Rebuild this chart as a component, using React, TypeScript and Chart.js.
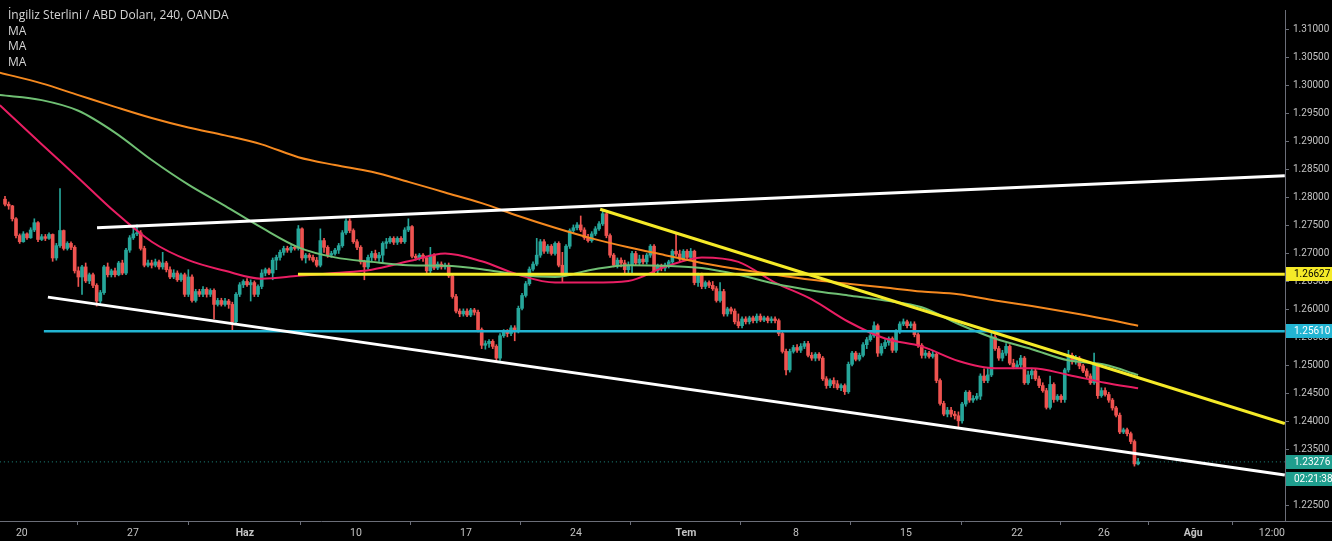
import React, { useEffect, useRef } from 'react';
import { Chart, registerables } from 'chart.js';

Chart.register(...registerables);

// ---- GBP/USD 4H candles (OANDA) ----
const opens = [
  1.2797,1.2788,1.2785,1.2762,1.2732,1.2721,1.2735,1.2728,1.2742,1.2755,
  1.2725,1.2730,1.2727,1.2734,1.2692,1.2714,1.2741,1.2709,1.2718,1.2711,
  1.2669,1.2658,1.2676,1.2651,1.2662,1.2643,1.2615,1.2630,1.2676,1.2662,
  1.2669,1.2662,1.2683,1.2665,1.2706,1.2728,1.2735,1.2737,1.2709,1.2679,
  1.2683,1.2679,1.2685,1.2676,1.2683,1.2671,1.2658,1.2665,1.2653,1.2662,
  1.2627,1.2658,1.2616,1.2632,1.2627,1.2636,1.2627,1.2634,1.2609,1.2616,
  1.2609,1.2615,1.2609,1.2578,1.2627,1.2644,1.2650,1.2644,1.2648,1.2627,
  1.2641,1.2665,1.2671,1.2665,1.2688,1.2693,1.2702,1.2709,1.2706,1.2711,
  1.2709,1.2744,1.2692,1.2697,1.2693,1.2688,1.2679,1.2723,1.2711,1.2697,
  1.2700,1.2706,1.2714,1.2737,1.2758,1.2741,1.2721,1.2711,1.2685,1.2676,
  1.2693,1.2700,1.2692,1.2697,1.2718,1.2721,1.2727,1.2720,1.2727,1.2721,
  1.2742,1.2748,1.2695,1.2692,1.2697,1.2692,1.2669,1.2697,1.2674,1.2681,
  1.2676,1.2679,1.2660,1.2623,1.2597,1.2592,1.2597,1.2590,1.2599,1.2595,
  1.2564,1.2536,1.2539,1.2543,1.2534,1.2513,1.2553,1.2560,1.2557,1.2567,
  1.2562,1.2602,1.2625,1.2646,1.2672,1.2681,1.2697,1.2721,1.2704,1.2713,
  1.2700,1.2718,1.2679,1.2664,1.2713,1.2741,1.2746,1.2751,1.2742,1.2728,
  1.2723,1.2735,1.2744,1.2753,1.2771,1.2732,1.2697,1.2679,1.2688,1.2683,
  1.2671,1.2679,1.2700,1.2683,1.2690,1.2685,1.2697,1.2713,1.2669,1.2678,
  1.2674,1.2679,1.2685,1.2704,1.2699,1.2690,1.2704,1.2693,1.2704,1.2648,
  1.2662,1.2641,1.2648,1.2643,1.2637,1.2616,1.2632,1.2592,1.2601,1.2597,
  1.2578,1.2571,1.2583,1.2578,1.2585,1.2580,1.2588,1.2581,1.2585,1.2580,
  1.2583,1.2580,1.2557,1.2525,1.2492,1.2525,1.2532,1.2527,1.2534,1.2539,
  1.2518,1.2513,1.2520,1.2513,1.2476,1.2464,1.2473,1.2467,1.2460,1.2464,
  1.2453,1.2502,1.2522,1.2511,1.2518,1.2537,1.2546,1.2553,1.2571,1.2522,
  1.2534,1.2541,1.2548,1.2527,1.2560,1.2574,1.2578,1.2571,1.2574,1.2555,
  1.2536,1.2518,1.2522,1.2516,1.2520,1.2473,1.2432,1.2413,1.2420,1.2413,
  1.2410,1.2401,1.2431,1.2452,1.2438,1.2441,1.2445,1.2481,1.2473,1.2483,
  1.2551,1.2530,1.2513,1.2522,1.2534,1.2504,1.2497,1.2501,1.2513,1.2469,
  1.2483,1.2490,1.2476,1.2464,1.2455,1.2425,1.2466,1.2439,1.2445,1.2439,
  1.2492,1.2518,1.2508,1.2513,1.2499,1.2490,1.2481,1.2469,1.2501,1.2446,
  1.2455,1.2448,1.2438,1.2424,1.2411,1.2381,1.2385,1.2378,1.2364,1.2324,
];

const highs = [
  1.2802,1.2792,1.2786,1.2764,1.2735,1.2739,1.2737,1.2746,1.2762,1.2757,
  1.2734,1.2734,1.2737,1.2735,1.2718,1.2816,1.2742,1.2721,1.2721,1.2714,
  1.2676,1.2679,1.2683,1.2665,1.2665,1.2646,1.2634,1.2679,1.2683,1.2672,
  1.2674,1.2686,1.2688,1.2709,1.2732,1.2750,1.2751,1.2741,1.2713,1.2688,
  1.2688,1.2690,1.2688,1.2702,1.2686,1.2676,1.2671,1.2669,1.2665,1.2665,
  1.2671,1.2662,1.2636,1.2636,1.2641,1.2639,1.2637,1.2637,1.2620,1.2620,
  1.2620,1.2618,1.2613,1.2630,1.2648,1.2653,1.2655,1.2653,1.2651,1.2644,
  1.2671,1.2674,1.2674,1.2692,1.2697,1.2706,1.2713,1.2713,1.2714,1.2714,
  1.2750,1.2746,1.2700,1.2700,1.2697,1.2693,1.2744,1.2727,1.2714,1.2704,
  1.2709,1.2718,1.2741,1.2762,1.2762,1.2744,1.2725,1.2714,1.2688,1.2697,
  1.2704,1.2706,1.2702,1.2721,1.2727,1.2730,1.2730,1.2730,1.2730,1.2746,
  1.2762,1.2750,1.2699,1.2700,1.2700,1.2695,1.2711,1.2700,1.2685,1.2685,
  1.2683,1.2683,1.2664,1.2627,1.2601,1.2601,1.2601,1.2602,1.2602,1.2599,
  1.2567,1.2544,1.2546,1.2546,1.2537,1.2557,1.2564,1.2564,1.2571,1.2571,
  1.2606,1.2629,1.2650,1.2676,1.2685,1.2727,1.2725,1.2725,1.2716,1.2716,
  1.2721,1.2721,1.2702,1.2716,1.2744,1.2751,1.2755,1.2767,1.2746,1.2734,
  1.2739,1.2748,1.2757,1.2776,1.2772,1.2735,1.2700,1.2692,1.2692,1.2688,
  1.2685,1.2704,1.2704,1.2697,1.2697,1.2700,1.2716,1.2716,1.2681,1.2681,
  1.2683,1.2688,1.2707,1.2737,1.2706,1.2707,1.2707,1.2709,1.2706,1.2665,
  1.2665,1.2651,1.2651,1.2650,1.2641,1.2648,1.2636,1.2604,1.2604,1.2601,
  1.2592,1.2587,1.2587,1.2588,1.2588,1.2592,1.2592,1.2588,1.2588,1.2587,
  1.2587,1.2583,1.2560,1.2529,1.2529,1.2536,1.2537,1.2539,1.2543,1.2543,
  1.2523,1.2523,1.2523,1.2516,1.2480,1.2476,1.2478,1.2473,1.2467,1.2467,
  1.2506,1.2525,1.2525,1.2522,1.2541,1.2550,1.2557,1.2578,1.2574,1.2539,
  1.2546,1.2551,1.2551,1.2564,1.2578,1.2583,1.2581,1.2578,1.2578,1.2558,
  1.2539,1.2527,1.2525,1.2525,1.2523,1.2476,1.2436,1.2425,1.2425,1.2418,
  1.2417,1.2434,1.2455,1.2455,1.2446,1.2450,1.2485,1.2494,1.2495,1.2560,
  1.2555,1.2534,1.2527,1.2539,1.2537,1.2511,1.2508,1.2518,1.2516,1.2490,
  1.2494,1.2494,1.2481,1.2469,1.2459,1.2481,1.2469,1.2448,1.2448,1.2495,
  1.2527,1.2522,1.2518,1.2516,1.2502,1.2494,1.2485,1.2522,1.2504,1.2460,
  1.2460,1.2452,1.2441,1.2427,1.2415,1.2388,1.2388,1.2381,1.2367,1.2334,
];

const lows = [
  1.2785,1.2779,1.2758,1.2728,1.2718,1.2720,1.2725,1.2727,1.2739,1.2721,
  1.2723,1.2723,1.2725,1.2686,1.2688,1.2711,1.2706,1.2706,1.2707,1.2665,
  1.2641,1.2627,1.2648,1.2646,1.2639,1.2606,1.2611,1.2627,1.2658,1.2658,
  1.2658,1.2660,1.2662,1.2662,1.2702,1.2725,1.2732,1.2706,1.2676,1.2676,
  1.2674,1.2676,1.2672,1.2672,1.2667,1.2655,1.2655,1.2650,1.2650,1.2623,
  1.2623,1.2613,1.2613,1.2623,1.2623,1.2622,1.2623,1.2583,1.2606,1.2606,
  1.2606,1.2602,1.2562,1.2574,1.2623,1.2639,1.2641,1.2615,1.2623,1.2623,
  1.2637,1.2660,1.2662,1.2653,1.2671,1.2688,1.2697,1.2702,1.2702,1.2706,
  1.2706,1.2688,1.2683,1.2688,1.2685,1.2676,1.2676,1.2702,1.2693,1.2693,
  1.2697,1.2700,1.2711,1.2734,1.2737,1.2718,1.2707,1.2681,1.2653,1.2672,
  1.2685,1.2688,1.2686,1.2683,1.2709,1.2718,1.2716,1.2716,1.2718,1.2718,
  1.2739,1.2692,1.2688,1.2688,1.2686,1.2665,1.2665,1.2671,1.2671,1.2672,
  1.2672,1.2657,1.2620,1.2594,1.2587,1.2588,1.2587,1.2587,1.2590,1.2560,
  1.2530,1.2529,1.2532,1.2530,1.2508,1.2509,1.2550,1.2551,1.2553,1.2544,
  1.2558,1.2599,1.2622,1.2643,1.2669,1.2678,1.2693,1.2700,1.2700,1.2697,
  1.2697,1.2676,1.2648,1.2660,1.2709,1.2737,1.2742,1.2739,1.2725,1.2720,
  1.2720,1.2732,1.2741,1.2750,1.2728,1.2693,1.2676,1.2674,1.2676,1.2665,
  1.2665,1.2665,1.2679,1.2679,1.2681,1.2681,1.2693,1.2665,1.2665,1.2669,
  1.2669,1.2674,1.2681,1.2695,1.2686,1.2686,1.2690,1.2690,1.2644,1.2641,
  1.2637,1.2637,1.2639,1.2634,1.2613,1.2613,1.2588,1.2588,1.2592,1.2574,
  1.2567,1.2567,1.2574,1.2574,1.2576,1.2576,1.2578,1.2578,1.2576,1.2576,
  1.2576,1.2553,1.2522,1.2483,1.2488,1.2522,1.2523,1.2523,1.2530,1.2515,
  1.2509,1.2508,1.2509,1.2473,1.2459,1.2460,1.2460,1.2457,1.2455,1.2448,
  1.2450,1.2499,1.2508,1.2508,1.2515,1.2530,1.2543,1.2550,1.2516,1.2518,
  1.2530,1.2536,1.2523,1.2523,1.2557,1.2571,1.2567,1.2567,1.2551,1.2532,
  1.2513,1.2513,1.2513,1.2513,1.2469,1.2429,1.2410,1.2408,1.2408,1.2404,
  1.2387,1.2397,1.2427,1.2434,1.2434,1.2438,1.2439,1.2469,1.2469,1.2480,
  1.2527,1.2509,1.2508,1.2518,1.2501,1.2494,1.2494,1.2495,1.2466,1.2466,
  1.2476,1.2473,1.2460,1.2452,1.2422,1.2422,1.2434,1.2436,1.2434,1.2434,
  1.2488,1.2502,1.2502,1.2494,1.2487,1.2478,1.2466,1.2466,1.2441,1.2443,
  1.2445,1.2434,1.2420,1.2408,1.2378,1.2378,1.2374,1.2360,1.2320,1.2322,
];

const closes = [
  1.2788,1.2785,1.2762,1.2732,1.2721,1.2735,1.2728,1.2742,1.2755,1.2725,
  1.2730,1.2727,1.2734,1.2692,1.2714,1.2741,1.2709,1.2718,1.2711,1.2669,
  1.2658,1.2676,1.2651,1.2662,1.2643,1.2615,1.2630,1.2676,1.2662,1.2669,
  1.2662,1.2683,1.2665,1.2706,1.2728,1.2735,1.2737,1.2709,1.2679,1.2683,
  1.2679,1.2685,1.2676,1.2683,1.2671,1.2658,1.2665,1.2653,1.2662,1.2627,
  1.2658,1.2616,1.2632,1.2627,1.2636,1.2627,1.2634,1.2609,1.2616,1.2609,
  1.2615,1.2609,1.2578,1.2627,1.2644,1.2650,1.2644,1.2648,1.2627,1.2641,
  1.2665,1.2671,1.2665,1.2688,1.2693,1.2702,1.2709,1.2706,1.2711,1.2709,
  1.2744,1.2692,1.2697,1.2693,1.2688,1.2679,1.2723,1.2711,1.2697,1.2700,
  1.2706,1.2714,1.2737,1.2758,1.2741,1.2721,1.2711,1.2685,1.2676,1.2693,
  1.2700,1.2692,1.2697,1.2718,1.2721,1.2727,1.2720,1.2727,1.2721,1.2742,
  1.2748,1.2695,1.2692,1.2697,1.2692,1.2669,1.2697,1.2674,1.2681,1.2676,
  1.2679,1.2660,1.2623,1.2597,1.2592,1.2597,1.2590,1.2599,1.2595,1.2564,
  1.2536,1.2539,1.2543,1.2534,1.2513,1.2553,1.2560,1.2557,1.2567,1.2562,
  1.2602,1.2625,1.2646,1.2672,1.2681,1.2697,1.2721,1.2704,1.2713,1.2700,
  1.2718,1.2679,1.2664,1.2713,1.2741,1.2746,1.2751,1.2742,1.2728,1.2723,
  1.2735,1.2744,1.2753,1.2771,1.2732,1.2697,1.2679,1.2688,1.2683,1.2671,
  1.2679,1.2700,1.2683,1.2690,1.2685,1.2697,1.2713,1.2669,1.2678,1.2674,
  1.2679,1.2685,1.2704,1.2699,1.2690,1.2704,1.2693,1.2704,1.2648,1.2662,
  1.2641,1.2648,1.2643,1.2637,1.2616,1.2632,1.2592,1.2601,1.2597,1.2578,
  1.2571,1.2583,1.2578,1.2585,1.2580,1.2588,1.2581,1.2585,1.2580,1.2583,
  1.2580,1.2557,1.2525,1.2492,1.2525,1.2532,1.2527,1.2534,1.2539,1.2518,
  1.2513,1.2520,1.2513,1.2476,1.2464,1.2473,1.2467,1.2460,1.2464,1.2453,
  1.2502,1.2522,1.2511,1.2518,1.2537,1.2546,1.2553,1.2571,1.2522,1.2534,
  1.2541,1.2548,1.2527,1.2560,1.2574,1.2578,1.2571,1.2574,1.2555,1.2536,
  1.2518,1.2522,1.2516,1.2520,1.2473,1.2432,1.2413,1.2420,1.2413,1.2410,
  1.2401,1.2431,1.2452,1.2438,1.2441,1.2445,1.2481,1.2473,1.2483,1.2551,
  1.2530,1.2513,1.2522,1.2534,1.2504,1.2497,1.2501,1.2513,1.2469,1.2483,
  1.2490,1.2476,1.2464,1.2455,1.2425,1.2466,1.2439,1.2445,1.2439,1.2492,
  1.2518,1.2508,1.2513,1.2499,1.2490,1.2481,1.2469,1.2501,1.2446,1.2455,
  1.2448,1.2438,1.2424,1.2411,1.2381,1.2385,1.2378,1.2364,1.2324,1.23276,
];

// ---- Moving averages, sampled at candle indices ----
const maIndex = [-1.4,10,20,30,40,50,60,70,80,90,100,110,120,130,140,150,160,170,180,190,200,210,220,230,240,250,260,270,280,290,300,309];
const maRed = [1.2965,1.2895,1.2835,1.2774,1.2721,1.2688,1.2669,1.2655,1.2660,1.2665,1.2671,1.2686,1.2700,1.2686,1.2662,1.2648,1.2648,1.2651,1.2676,1.2693,1.2685,1.2648,1.2618,1.2578,1.2548,1.2534,1.2508,1.2495,1.2495,1.2483,1.2469,1.2459];
const maGreen = [1.2983,1.2974,1.2955,1.2916,1.2867,1.2823,1.2785,1.2746,1.2711,1.2693,1.2685,1.2679,1.2678,1.2672,1.2662,1.2658,1.2671,1.2679,1.2678,1.2674,1.2662,1.2646,1.2634,1.2625,1.2616,1.2604,1.2574,1.2548,1.2529,1.2509,1.2501,1.2483];
const maOrange = [1.3023,1.3004,1.2983,1.2962,1.2942,1.2925,1.2911,1.2895,1.2872,1.2858,1.2846,1.2828,1.2809,1.2790,1.2767,1.2746,1.2727,1.2711,1.2697,1.2683,1.2672,1.2662,1.2653,1.2646,1.2639,1.2632,1.2627,1.2616,1.2606,1.2595,1.2583,1.2571];

// ---- Drawings ----
const upperTrendX = [25.1, 349];
const upperTrendY = [1.2746, 1.2839];
const lowerTrendX = [11.7, 349];
const lowerTrendY = [1.2622, 1.2304];
const fallingTrendX = [162.3, 349];
const fallingTrendY = [1.2779, 1.2396];
const resistanceX = [79.9, 349];
const resistanceLevel = 1.26627;
const supportX = [10.6, 349];
const supportLevel = 1.2561;
const lastPrice = 1.23276;
const countdown = '02:21:38';

// ---- Axes ----
const yTicks = [1.225,1.23,1.235,1.24,1.245,1.25,1.255,1.26,1.265,1.27,1.275,1.28,1.285,1.29,1.295,1.3,1.305,1.31];
const xTickPos = [4.6, 34.9, 65.4, 95.7, 125.7, 155.7, 185.7, 215.7, 245.7, 276, 299.7, 324, 345.5];
const xTickLabels = ['20','27','Haz','10','17','24','Tem','8','15','22','26','Ağu','12:00'];
const monthLabels = ['Haz','Tem','Ağu'];

const title = 'İngiliz Sterlini / ABD Doları, 240, OANDA';
const indicatorNames = ['MA','MA','MA'];

const UP = '#26a69a';
const DOWN = '#ef5350';

export default function App() {
  const ref = useRef<HTMLCanvasElement>(null);

  useEffect(() => {
    document.body.style.margin = '0';
    document.body.style.background = '#000';
    const canvas = ref.current;
    if (!canvas) return;

    const idx = closes.map((_, i) => i);
    const colors = idx.map(i => (closes[i] >= opens[i] ? UP : DOWN));
    const pts = (xs: number[], ys: number[]) => xs.map((x, i) => ({ x, y: ys[i] }));

    const tagPlugin = {
      id: 'priceTags',
      afterDraw(chart: any) {
        const { ctx, chartArea, scales } = chart;
        const y = scales.y;
        const W = chart.width;
        ctx.save();
        // extend bottom axis line under the price scale
        ctx.strokeStyle = '#6b6e78';
        ctx.lineWidth = 1;
        ctx.beginPath();
        ctx.moveTo(chartArea.right, chartArea.bottom + 0.5);
        ctx.lineTo(W, chartArea.bottom + 0.5);
        ctx.stroke();
        const tag = (py: number, text: string, bg: string, fg: string) => {
          ctx.fillStyle = bg;
          ctx.fillRect(chartArea.right + 1, py - 7, W - chartArea.right - 1, 14);
          ctx.fillStyle = fg;
          ctx.font = '10px Roboto';
          ctx.textBaseline = 'middle';
          ctx.textAlign = 'left';
          ctx.fillText(text, chartArea.right + 9, py + 0.5);
        };
        tag(Math.round(y.getPixelForValue(resistanceLevel)), resistanceLevel.toFixed(5), '#f5ea28', '#000');
        tag(Math.round(y.getPixelForValue(supportLevel)), supportLevel.toFixed(5), '#22b4d2', '#fff');
        const lp = Math.round(y.getPixelForValue(lastPrice));
        tag(lp, lastPrice.toFixed(5), '#1f9e8e', '#fff');
        tag(lp + 17, countdown, '#1f9e8e', '#fff');
        ctx.restore();
      },
    };

    const line = (data: any[], color: string, width: number, extra: any = {}) => ({
      type: 'line',
      data,
      borderColor: color,
      borderWidth: width,
      pointRadius: 0,
      fill: false,
      order: 0,
      ...extra,
    });

    const chart = new Chart(canvas, {
      type: 'bar',
      data: {
        datasets: [
          line(pts(upperTrendX, upperTrendY), '#ffffff', 3),
          line(pts(lowerTrendX, lowerTrendY), '#ffffff', 3),
          line(pts(fallingTrendX, fallingTrendY), '#f5ea28', 3),
          line(pts(resistanceX, [resistanceLevel, resistanceLevel]), '#f5ea28', 3),
          line(pts(supportX, [supportLevel, supportLevel]), '#22b4d2', 2.5),
          line(pts([-1.4, 349], [lastPrice, lastPrice]), 'rgba(38,166,154,0.85)', 1, { borderDash: [1, 3] }),
          line(pts(maIndex, maOrange), '#f5891f', 2, { cubicInterpolationMode: 'monotone', order: 1 }),
          line(pts(maIndex, maGreen), '#6fbf73', 2, { cubicInterpolationMode: 'monotone', order: 1 }),
          line(pts(maIndex, maRed), '#e91e63', 2, { cubicInterpolationMode: 'monotone', order: 1 }),
          {
            type: 'bar',
            data: idx.map(i => ({ x: i, y: [opens[i], closes[i]] })),
            backgroundColor: colors,
            barThickness: 3,
            minBarLength: 1,
            grouped: false,
            order: 5,
          },
          {
            type: 'bar',
            data: idx.map(i => ({ x: i, y: [lows[i], highs[i]] })),
            backgroundColor: colors,
            barThickness: 1,
            grouped: false,
            order: 6,
          },
        ] as any,
      },
      options: {
        animation: false,
        responsive: false,
        devicePixelRatio: 1,
        events: [],
        layout: { padding: 0 },
        plugins: { legend: { display: false }, tooltip: { enabled: false }, title: { display: false } },
        scales: {
          x: {
            type: 'linear',
            min: -1.364,
            max: 349.06,
            offset: false,
            grid: { display: true, drawOnChartArea: false, drawTicks: true, tickLength: 4, color: '#6b6e78' },
            border: { display: true, color: '#6b6e78' },
            afterBuildTicks: (s: any) => { s.ticks = xTickPos.map(v => ({ value: v })); },
            afterFit: (s: any) => { s.height = 20; },
            ticks: {
              autoSkip: false,
              maxRotation: 0,
              minRotation: 0,
              padding: 2,
              color: '#c3c3c3',
              font: (c: any) => ({
                family: 'Roboto',
                size: 10.5,
                weight: monthLabels.includes(xTickLabels[c.index]) ? 'bold' : 'normal',
              }),
              callback: (_v: any, i: number) => xTickLabels[i],
            },
          },
          y: {
            type: 'linear',
            position: 'right',
            min: 1.222198,
            max: 1.313505,
            grid: { display: true, drawOnChartArea: false, drawTicks: true, tickLength: 4, color: '#6b6e78' },
            border: { display: true, color: '#6b6e78' },
            afterBuildTicks: (s: any) => { s.ticks = yTicks.map(v => ({ value: v })); },
            afterFit: (s: any) => { s.width = 47; },
            ticks: {
              padding: 4,
              color: '#c3c3c3',
              font: { family: 'Roboto', size: 10 },
              callback: (v: any) => Number(v).toFixed(5),
            },
          },
        },
      } as any,
      plugins: [tagPlugin],
    });

    return () => chart.destroy();
  }, []);

  return (
    <div style={{ position: 'fixed', left: 0, top: 0, width: 1332, height: 541, background: '#000', overflow: 'hidden' }}>
      <canvas ref={ref} width={1332} height={541} style={{ display: 'block', width: 1332, height: 541 }} />
      <div
        style={{
          position: 'absolute',
          left: 8,
          top: 7,
          fontFamily: '"Open Sans", sans-serif',
          fontSize: 12,
          lineHeight: '15.5px',
          color: '#d6d6d6',
          pointerEvents: 'none',
        }}
      >
        <div>{title}</div>
        {indicatorNames.map((n, i) => (
          <div key={i}>{n}</div>
        ))}
      </div>
    </div>
  );
}
